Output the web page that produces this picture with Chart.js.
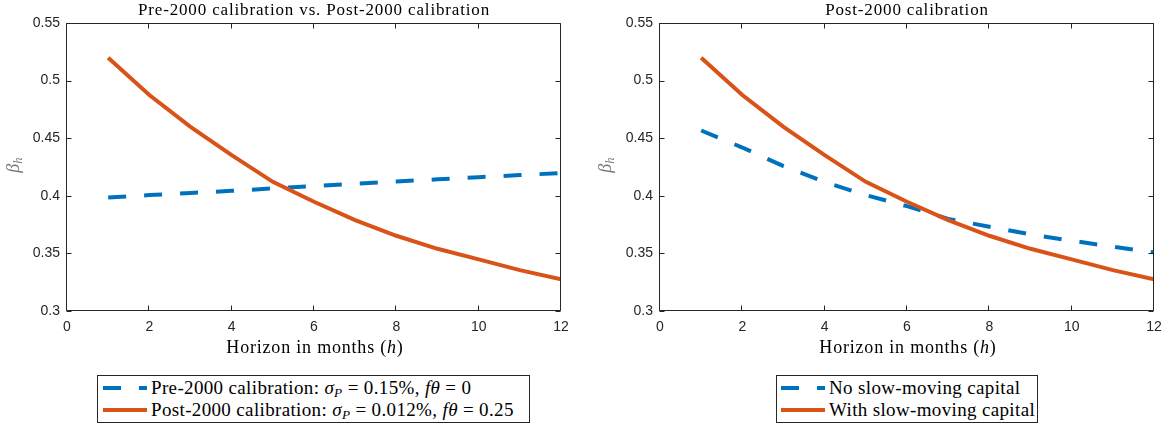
<!DOCTYPE html>
<html lang="en">
<head>
  <meta charset="UTF-8">
  <title>Beta by horizon</title>
  <script src="https://cdn.jsdelivr.net/npm/chart.js"></script>
  <style>
    body {
      margin: 0;
      width: 1172px;
      height: 429px;
      background: #fff;
      position: relative;
      overflow: hidden;
      font-family: 'Liberation Serif', serif;
      color: #000;
    }
    canvas { position: absolute; top: 0; }
    .title, .xlab {
      position: absolute;
      white-space: nowrap;
      transform: translateX(-50%);
    }
    .title { top: 0; font-size: 17px; line-height: 20px; letter-spacing: 0.85px; }
    .xlab { top: 336px; font-size: 18px; line-height: 22px; letter-spacing: 0.8px; }
    .ylab {
      position: absolute;
      top: 165px;
      font-size: 18px;
      color: #777;
      transform: translate(-50%, -50%) rotate(-90deg);
      white-space: nowrap;
    }
    .legend {
      position: absolute;
      top: 375px;
      height: 48px;
      box-sizing: border-box;
      border: 1px solid #262626;
      background: #fff;
      padding: 1px 0 0 5px;
      font-size: 19px;
      letter-spacing: 0.35px;
    }
    .legend .row { display: flex; align-items: center; height: 22px; white-space: nowrap; }
    .legend svg { margin-right: 4px; flex: none; }
    sub { font-size: 70%; vertical-align: -3px; line-height: 0; }
  </style>
</head>
<body>
  <canvas id="left" width="586" height="360" style="left:0"></canvas>
  <canvas id="right" width="586" height="360" style="left:586px"></canvas>

  <div class="title" style="left:314px">Pre-2000 calibration vs. Post-2000 calibration</div>
  <div class="title" style="left:907px">Post-2000 calibration</div>
  <div class="xlab" style="left:315px">Horizon in months (<i>h</i>)</div>
  <div class="xlab" style="left:908px">Horizon in months (<i>h</i>)</div>
  <div class="ylab" style="left:13px"><i>β<sub>h</sub></i></div>
  <div class="ylab" style="left:605px"><i>β<sub>h</sub></i></div>

  <div class="legend" id="legLeft" style="left:97px;width:433px"></div>
  <div class="legend" id="legRight" style="left:776px;width:262px;padding-left:4px"></div>

  <script>
    // horizon in months
    const months = [1, 2, 3, 4, 5, 6, 7, 8, 9, 10, 11, 12];

    // left panel
    const preBeta  = [0.3986, 0.4006, 0.4025, 0.4043, 0.4064, 0.4084, 0.4104, 0.4124, 0.4143, 0.4162, 0.4180, 0.4197];
    const postBeta = [0.5198, 0.4875, 0.4598, 0.4353, 0.4121, 0.3948, 0.3789, 0.3653, 0.3540, 0.3448, 0.3355, 0.3275];

    // right panel
    const noSlowBeta   = [0.4567, 0.4419, 0.4257, 0.4120, 0.4006, 0.3910, 0.3800, 0.3731, 0.3665, 0.3610, 0.3558, 0.3509];
    const withSlowBeta = postBeta;

    const xTicks = [0, 2, 4, 6, 8, 10, 12];
    const yTicks = [0.3, 0.35, 0.4, 0.45, 0.5, 0.55];

    const leftLabels = [
      'Pre-2000 calibration: <i>σ<sub>P</sub></i> = 0.15%, <i>fθ</i> = 0',
      'Post-2000 calibration: <i>σ<sub>P</sub></i> = 0.012%, <i>fθ</i> = 0.25'
    ];
    const rightLabels = ['No slow-moving capital', 'With slow-moving capital'];

    const BLUE = '#0072BD';
    const ORANGE = '#D95319';
    const AXIS = '#262626';

    const toPts = vals => vals.map((v, i) => ({ x: months[i], y: v }));

    // MATLAB style box with inward ticks on all four sides
    const boxPlugin = {
      id: 'box',
      afterDatasetsDraw(chart) {
        const { ctx, chartArea: a, scales: { x, y } } = chart;
        const L = Math.round(a.left) - 0.5, R = Math.round(a.right) - 0.5;
        const T = Math.round(a.top) + 0.5, B = Math.round(a.bottom) - 0.5;
        ctx.save();
        ctx.strokeStyle = AXIS;
        ctx.lineWidth = 1;
        ctx.beginPath();
        xTicks.forEach(v => {
          const px = Math.round(x.getPixelForValue(v)) - 0.5;
          ctx.moveTo(px, B); ctx.lineTo(px, B - 5);
          ctx.moveTo(px, T); ctx.lineTo(px, T + 5);
        });
        yTicks.forEach(v => {
          const py = Math.round(y.getPixelForValue(v)) + 0.5;
          ctx.moveTo(L, py); ctx.lineTo(L + 5, py);
          ctx.moveTo(R, py); ctx.lineTo(R - 5, py);
        });
        ctx.rect(L, T, R - L, B - T);
        ctx.stroke();
        ctx.restore();
      }
    };

    function makeChart(id, dashed, solid, yWidth, rightPad) {
      new Chart(document.getElementById(id), {
        type: 'line',
        data: {
          datasets: [
            {
              data: toPts(solid),
              borderColor: ORANGE,
              borderWidth: 4,
              pointRadius: 0,
              tension: 0,
              order: 0
            },
            {
              data: toPts(dashed),
              borderColor: BLUE,
              borderWidth: 4,
              borderDash: [18, 18],
              pointRadius: 0,
              tension: 0,
              order: 1
            }
          ]
        },
        options: {
          responsive: false,
          animation: false,
          devicePixelRatio: 1,
          layout: { padding: { left: 0, top: 23, right: rightPad, bottom: 0 } },
          plugins: { legend: { display: false }, tooltip: { enabled: false } },
          scales: {
            x: {
              type: 'linear',
              min: 0, max: 12,
              afterBuildTicks: s => { s.ticks = xTicks.map(v => ({ value: v })); },
              afterFit: s => { s.height = 49; },
              grid: { display: false, drawTicks: false },
              border: { display: false },
              ticks: { color: AXIS, padding: 8, font: { family: 'Liberation Sans', size: 14 } }
            },
            y: {
              min: 0.3, max: 0.55,
              afterBuildTicks: s => { s.ticks = yTicks.map(v => ({ value: v })); },
              afterFit: s => { s.width = yWidth; },
              grid: { display: false, drawTicks: false },
              border: { display: false },
              ticks: {
                color: AXIS, padding: 7,
                font: { family: 'Liberation Sans', size: 14 },
                callback: v => String(Number(v.toFixed(2)))
              }
            }
          }
        },
        plugins: [boxPlugin]
      });
    }

    makeChart('left', preBeta, postBeta, 67, 25);
    makeChart('right', noSlowBeta, withSlowBeta, 74, 18);

    function legendRow(color, dashed, html) {
      const dash = dashed ? ' stroke-dasharray="18 18"' : '';
      return '<div class="row"><svg width="44" height="6"><line x1="0" y1="3" x2="44" y2="3" stroke="' +
        color + '" stroke-width="4"' + dash + '/></svg><span>' + html + '</span></div>';
    }
    document.getElementById('legLeft').innerHTML =
      legendRow(BLUE, true, leftLabels[0]) + legendRow(ORANGE, false, leftLabels[1]);
    document.getElementById('legRight').innerHTML =
      legendRow(BLUE, true, rightLabels[0]) + legendRow(ORANGE, false, rightLabels[1]);
  </script>
</body>
</html>
